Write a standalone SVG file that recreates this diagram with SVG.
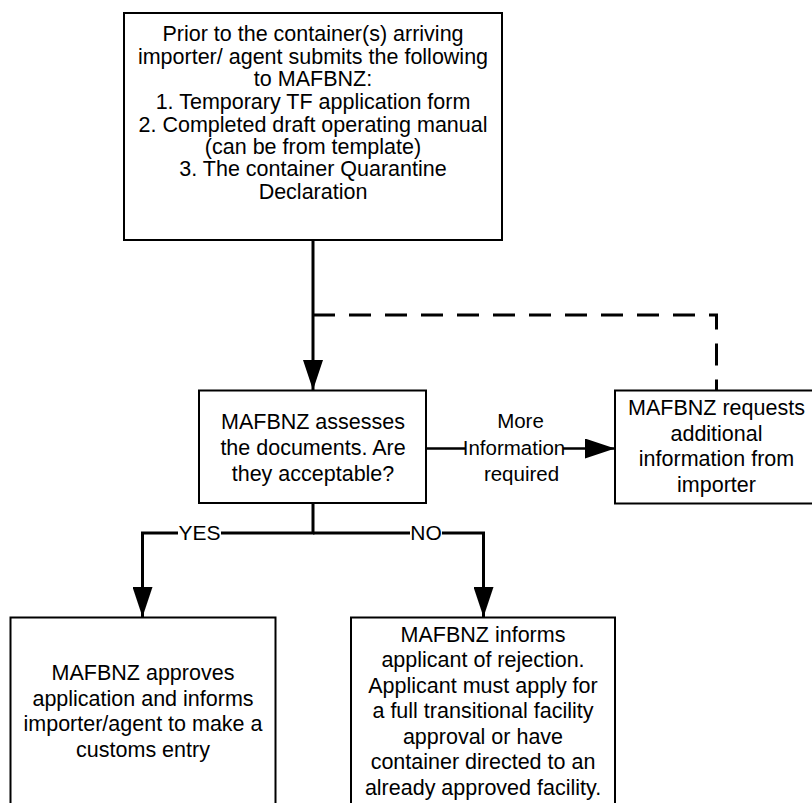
<svg xmlns="http://www.w3.org/2000/svg" width="812" height="803" viewBox="0 0 812 803">
<defs>
<style>
.box{fill:#fff;stroke:#000;stroke-width:2}
.t{font-family:"Liberation Sans",Arial,sans-serif;font-size:21.5px;fill:#000;text-anchor:middle}
.lab{font-size:20.5px}
.c{fill:none;stroke:#000;stroke-width:3}
.d{fill:none;stroke:#000;stroke-width:3;stroke-dasharray:22 14}
.bg{fill:#fff;stroke:none}
</style>
<marker id="ah" markerUnits="userSpaceOnUse" markerWidth="30" markerHeight="20" refX="30" refY="10" orient="auto">
<path d="M0,0 L30,10 L0,20 z" fill="#000"/>
</marker>
</defs>
<rect width="812" height="803" fill="#fff"/>
<g id="connectors">
<path class="c" d="M313,240 V390" marker-end="url(#ah)"/>
<path class="d" d="M313,315 H716.5 V390"/>
<path class="c" d="M426,448.5 H615" style="stroke-width:2.5" marker-end="url(#ah)"/>
<path class="c" d="M313,503 V533 H142.5 V617" marker-end="url(#ah)"/>
<path class="c" d="M313,533 H483.5 V617" marker-end="url(#ah)"/>
<rect class="bg" x="465" y="433" width="98" height="25"/>
<rect class="bg" x="178" y="520" width="43" height="24"/>
<rect class="bg" x="410" y="520" width="32" height="24"/>
<text class="t lab" x="520.5" y="428">More</text>
<text class="t lab" x="514" y="455">Information</text>
<text class="t lab" x="521.5" y="481">required</text>
<text class="t" x="199.5" y="540" style="font-size:21px">YES</text>
<text class="t" x="426" y="540" style="font-size:21px">NO</text>
</g>
<g id="n1">
<rect class="box" x="124" y="13" width="378" height="227"/>
<text class="t"><tspan x="313" y="41">Prior to the container(s) arriving</tspan><tspan x="313" y="63.5">importer/ agent submits the following</tspan><tspan x="313" y="86">to MAFBNZ:</tspan><tspan x="313" y="109">1. Temporary TF application form</tspan><tspan x="313" y="131.5">2. Completed draft operating manual</tspan><tspan x="313" y="154">(can be from template)</tspan><tspan x="313" y="176">3. The container Quarantine</tspan><tspan x="313" y="198.5">Declaration</tspan></text>
</g>
<g id="n2">
<rect class="box" x="199" y="390.5" width="227" height="112.5"/>
<text class="t"><tspan x="313" y="428.5">MAFBNZ assesses</tspan><tspan x="313" y="454.5">the documents. Are</tspan><tspan x="313" y="480.5">they acceptable?</tspan></text>
</g>
<g id="n3">
<rect class="box" x="615" y="390.5" width="203" height="113"/>
<text class="t"><tspan x="716.5" y="415">MAFBNZ requests</tspan><tspan x="716.5" y="440.5">additional</tspan><tspan x="716.5" y="466">information from</tspan><tspan x="716.5" y="491.5">importer</tspan></text>
</g>
<g id="n4">
<rect class="box" x="10.5" y="617.5" width="265" height="200"/>
<text class="t"><tspan x="143" y="680">MAFBNZ approves</tspan><tspan x="143" y="705.5">application and informs</tspan><tspan x="143" y="731">importer/agent to make a</tspan><tspan x="143" y="756.5">customs entry</tspan></text>
</g>
<g id="n5">
<rect class="box" x="351" y="617.5" width="264" height="200"/>
<text class="t"><tspan x="483" y="641.5">MAFBNZ informs</tspan><tspan x="483" y="667">applicant of rejection.</tspan><tspan x="483" y="692.5">Applicant must apply for</tspan><tspan x="483" y="718">a full transitional facility</tspan><tspan x="483" y="743.5">approval or have</tspan><tspan x="483" y="769">container directed to an</tspan><tspan x="483" y="794.5">already approved facility.</tspan></text>
</g>
</svg>
